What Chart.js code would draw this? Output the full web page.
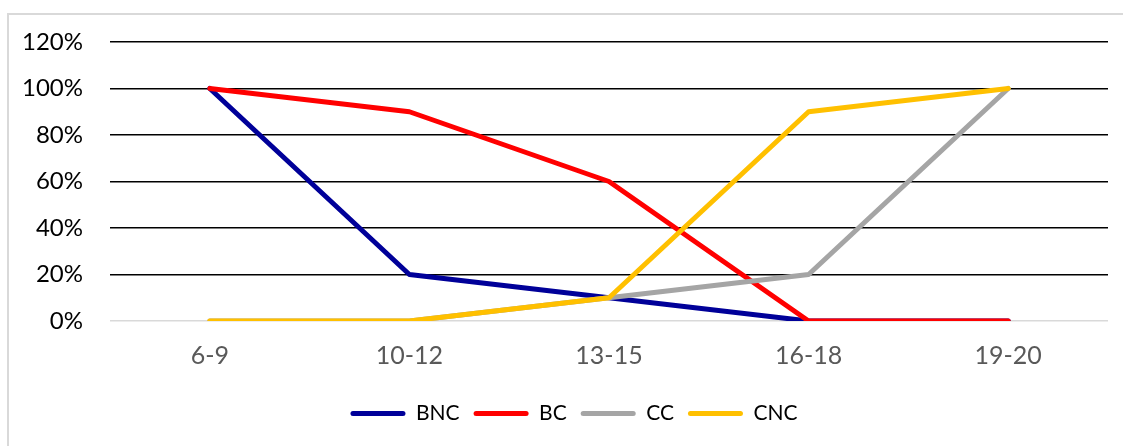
<!DOCTYPE html>
<html>
<head>
<meta charset="utf-8">
<script src="https://cdn.jsdelivr.net/npm/chart.js@4.4.1/dist/chart.umd.min.js"></script>
<style>
    html, body { margin: 0; padding: 0; background: #fff; }
    #wrap { position: relative; width: 1123px; height: 446px; overflow: hidden; }
    #frame { position: absolute; left: 7px; top: 13px; width: 1140px; height: 460px; border: 2px solid #d9d9d9; box-sizing: border-box; }
    #chart { position: absolute; left: 0; top: 0; }
</style>
</head>
<body>
<div id="wrap">
    <div id="frame"></div>
    <canvas id="chart" width="1123" height="446"></canvas>
</div>
<script>
// Age groups on the x axis
const ageGroups = ['6-9', '10-12', '13-15', '16-18', '19-20'];

// Series values (%)
const bncValues = [100, 20, 10, 0, 0];
const bcValues  = [100, 90, 60, 0, 0];
const ccValues  = [0, 0, 10, 20, 100];
const cncValues = [0, 0, 10, 90, 100];

const seriesNames = ['BNC', 'BC', 'CC', 'CNC'];
const seriesColors = ['#000099', '#FF0000', '#A5A5A5', '#FFC000'];

// y ticks: 0% .. 120%
const yMin = 0, yMax = 120, yStep = 20;

const FONT = 'Lato, Calibri, Carlito, sans-serif';

function makeDataset(i, values) {
    return {
        label: seriesNames[i],
        data: values,
        borderColor: seriesColors[i],
        backgroundColor: seriesColors[i],
        borderWidth: 5,
        borderCapStyle: 'round',
        borderJoinStyle: 'round',
        pointRadius: 0,
        pointHoverRadius: 0,
        tension: 0,
        fill: false,
        order: 4 - i   // later series painted on top, like Excel
    };
}

// legend in the original is centred on the frame, not the canvas
const shiftLegend = {
    id: 'shiftLegend',
    afterLayout(chart) {
        if (!chart.legend) return;
        chart.legend.left += 20;
        chart.legend.right += 20;
    }
};

new Chart(document.getElementById('chart'), {
    type: 'line',
    data: {
        labels: ageGroups,
        datasets: [
            makeDataset(0, bncValues),
            makeDataset(1, bcValues),
            makeDataset(2, ccValues),
            makeDataset(3, cncValues)
        ]
    },
    plugins: [shiftLegend],
    options: {
        responsive: false,
        animation: false,
        layout: { padding: { top: 42, right: 15, bottom: 12, left: 0 } },
        plugins: {
            tooltip: { enabled: false },
            legend: {
                position: 'bottom',
                labels: {
                    font: { family: FONT, size: 21 },
                    color: '#000',
                    boxWidth: 55,
                    boxHeight: 5,
                    padding: 14,
                    generateLabels: (chart) => chart.data.datasets.map((ds, i) => ({
                        text: ds.label,
                        fillStyle: ds.borderColor,
                        strokeStyle: ds.borderColor,
                        lineWidth: 0,
                        hidden: false,
                        datasetIndex: i,
                        fontColor: '#000',
                        borderRadius: 2.5
                    })),
                    useBorderRadius: true
                }
            }
        },
        scales: {
            x: {
                offset: true,
                grid: { display: false, drawTicks: false },
                border: { display: false },
                ticks: { color: '#595959', font: { family: FONT, size: 25 }, padding: 20, maxRotation: 0 },
                afterFit: (scale) => { scale.height = 68; }
            },
            y: {
                min: yMin,
                max: yMax,
                grid: {
                    drawTicks: false,
                    color: (ctx) => ctx.tick && ctx.tick.value === 0 ? '#d9d9d9' : '#000',
                    lineWidth: (ctx) => ctx.tick && ctx.tick.value === 0 ? 1.5 : 1.6
                },
                border: { display: false },
                ticks: {
                    stepSize: yStep,
                    color: '#000',
                    font: { family: FONT, size: 24 },
                    padding: 27,
                    callback: (v) => v + '%'
                },
                afterFit: (scale) => { scale.width = 110; }
            }
        }
    }
});
</script>
</body>
</html>
